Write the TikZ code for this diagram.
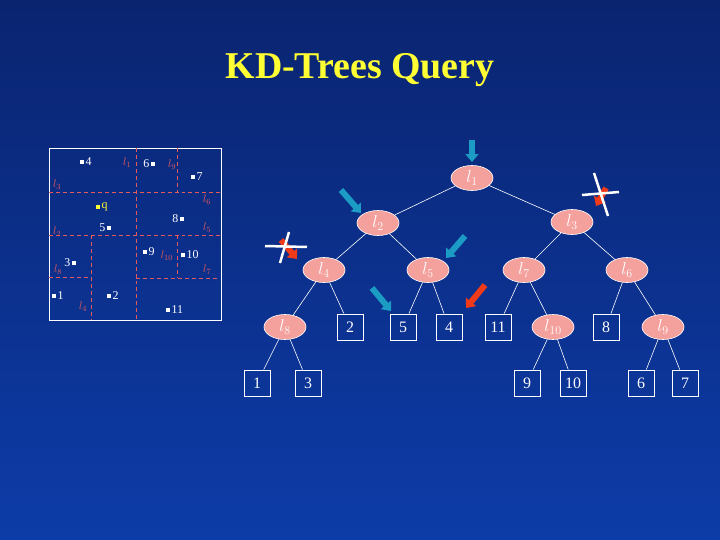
\documentclass[tikz,border=0pt]{standalone}
\usepackage{fontspec}
\setmainfont{Liberation Serif}
\usetikzlibrary{arrows.meta,shapes.geometric}
\definecolor{bgtop}{HTML}{0A2470}
\definecolor{bgbot}{HTML}{0D3CA8}
\definecolor{pinkn}{HTML}{F4A09C}
\definecolor{teala}{HTML}{1C9CC4}
\definecolor{reda}{HTML}{F03A1A}
\definecolor{redl}{HTML}{E85A5A}
\definecolor{ttl}{HTML}{FFFF33}
\begin{document}
\begin{tikzpicture}[x=1bp,y=-1bp,
 inner/.style={ellipse,fill=pinkn,draw=white,line width=0.6pt,minimum width=42bp,minimum height=25bp,inner sep=0pt,text=white,font=\fontsize{17}{17}\selectfont},
 leaf/.style={draw=white,line width=0.8pt,minimum size=26bp,inner sep=0pt,text=white,font=\fontsize{16}{16}\selectfont},
 edge/.style={white,line width=0.6pt},
 tarr/.style={line width=6pt,draw=teala,-{Triangle[width=13pt,length=8pt]}},
 rarr/.style={line width=6pt,draw=reda,-{Triangle[width=13pt,length=8pt]}},
 xline/.style={white,line width=2.5pt},
 split/.style={redl,dash pattern=on 4pt off 3pt,line width=0.7pt},
 pt/.style={fill=white,inner sep=0pt,minimum size=4.5bp},
 ptl/.style={text=white,font=\fontsize{12}{12}\selectfont,inner sep=1pt},
 sl/.style={text=redl,font=\fontsize{11}{11}\selectfont,inner sep=0pt}]
\useasboundingbox (0,0) rectangle (720,540);
\shade[top color=bgtop,bottom color=bgbot] (0,0) rectangle (720,540);
\node[text=ttl,font=\fontsize{38}{38}\bfseries\selectfont] (title) at (360,70) {KD-Trees Query};
% left panel
\draw[white,line width=0.8pt] (49,148) rectangle (221,320);
\draw[split] (136,148) -- (136,320);
\draw[split] (49,192) -- (221,192);
\draw[split] (177,148) -- (177,192);
\draw[split] (49,235) -- (221,235);
\draw[split] (91,235) -- (91,320);
\draw[split] (49,277) -- (91,277);
\draw[split] (177,235) -- (177,278);
\draw[split] (136,278) -- (217,278);
\node[pt] (p4) at (82,162) {}; \node[ptl,anchor=west] at (p4.east) {4};
\node[pt] (p6) at (153,164) {}; \node[ptl,anchor=east] at (p6.west) {6};
\node[pt] (p7) at (193,177) {}; \node[ptl,anchor=west] at (p7.east) {7};
\node[pt,fill=ttl] (pq) at (98,207) {}; \node[ptl,anchor=west,text=ttl] at (pq.east) {q};
\node[pt] (p5) at (109,228) {}; \node[ptl,anchor=east] at (p5.west) {5};
\node[pt] (p8) at (182,219) {}; \node[ptl,anchor=east] at (p8.west) {8};
\node[pt] (p3) at (74,263) {}; \node[ptl,anchor=east] at (p3.west) {3};
\node[pt] (p9) at (145,252) {}; \node[ptl,anchor=west] at (p9.east) {9};
\node[pt] (p10) at (183,255) {}; \node[ptl,anchor=west] at (p10.east) {10};
\node[pt] (p1) at (54,296) {}; \node[ptl,anchor=west] at (p1.east) {1};
\node[pt] (p2) at (109,296) {}; \node[ptl,anchor=west] at (p2.east) {2};
\node[pt] (p11) at (168,310) {}; \node[ptl,anchor=west] at (p11.east) {11};
\node[sl] at (127,163) {$l_1$};
\node[sl] at (172,165) {$l_9$};
\node[sl] at (57,185) {$l_3$};
\node[sl] at (207,200) {$l_6$};
\node[sl] at (57,232) {$l_2$};
\node[sl] at (207,228) {$l_5$};
\node[sl] at (167,256) {$l_{10}$};
\node[sl] at (58,270) {$l_8$};
\node[sl] at (207,270) {$l_7$};
\node[sl] at (83,307) {$l_4$};
% tree
\node[inner] (l1) at (472,178) {$l_1$};
\node[inner] (l2) at (378,223) {$l_2$};
\node[inner] (l3) at (572,222) {$l_3$};
\node[inner] (l4) at (324,270) {$l_4$};
\node[inner] (l5) at (428,270) {$l_5$};
\node[inner] (l7) at (524,270) {$l_7$};
\node[inner] (l6) at (627,270) {$l_6$};
\node[inner] (l8) at (285,327) {$l_8$};
\node[leaf] (b2) at (350,327) {2};
\node[leaf] (b5) at (403,327) {5};
\node[leaf] (b4) at (449,327) {4};
\node[leaf] (b11) at (498,327) {11};
\node[inner] (l10) at (553,327) {$l_{10}$};
\node[leaf] (b8) at (606,327) {8};
\node[inner] (l9) at (663,327) {$l_9$};
\node[leaf] (b1) at (257,383) {1};
\node[leaf] (b3) at (308,383) {3};
\node[leaf] (b9) at (527,383) {9};
\node[leaf] (b10) at (573,383) {10};
\node[leaf] (b6) at (641,383) {6};
\node[leaf] (b7) at (685,383) {7};
\foreach \a/\b in {l1/l2,l1/l3,l2/l4,l2/l5,l3/l7,l3/l6,l4/l8,l4/b2,l5/b5,l5/b4,l7/b11,l7/l10,l6/b8,l6/l9,l8/b1,l8/b3,l10/b9,l10/b10,l9/b6,l9/b7}
  \draw[edge] (\a) -- (\b);
% arrows
\coordinate (a1s) at (472,140); \coordinate (a1e) at (472,162);
\draw[tarr] (a1s) -- (a1e);
\coordinate (a2s) at (341,190); \coordinate (a2e) at (361,213);
\draw[tarr] (a2s) -- (a2e);
\coordinate (a3s) at (465,236); \coordinate (a3e) at (446,258);
\draw[tarr] (a3s) -- (a3e);
\coordinate (a4s) at (372,288); \coordinate (a4e) at (391,311);
\draw[tarr] (a4s) -- (a4e);
\coordinate (a5s) at (485,285); \coordinate (a5e) at (466,308);
\draw[rarr] (a5s) -- (a5e);
\coordinate (a6s) at (281,240); \coordinate (a6e) at (297,259);
\draw[rarr] (a6s) -- (a6e);
\coordinate (a7s) at (606,188); \coordinate (a7e) at (596,206);
\draw[rarr] (a7s) -- (a7e);
% crosses
\coordinate (x1a) at (265,246); \coordinate (x1b) at (307,247);
\coordinate (x1c) at (289,232); \coordinate (x1d) at (280,263);
\draw[xline] (x1a) -- (x1b); \draw[xline] (x1c) -- (x1d);
\coordinate (x2a) at (582,195); \coordinate (x2b) at (619,192);
\coordinate (x2c) at (594,173); \coordinate (x2d) at (608,216);
\draw[xline] (x2a) -- (x2b); \draw[xline] (x2c) -- (x2d);
\end{tikzpicture}
\end{document}
